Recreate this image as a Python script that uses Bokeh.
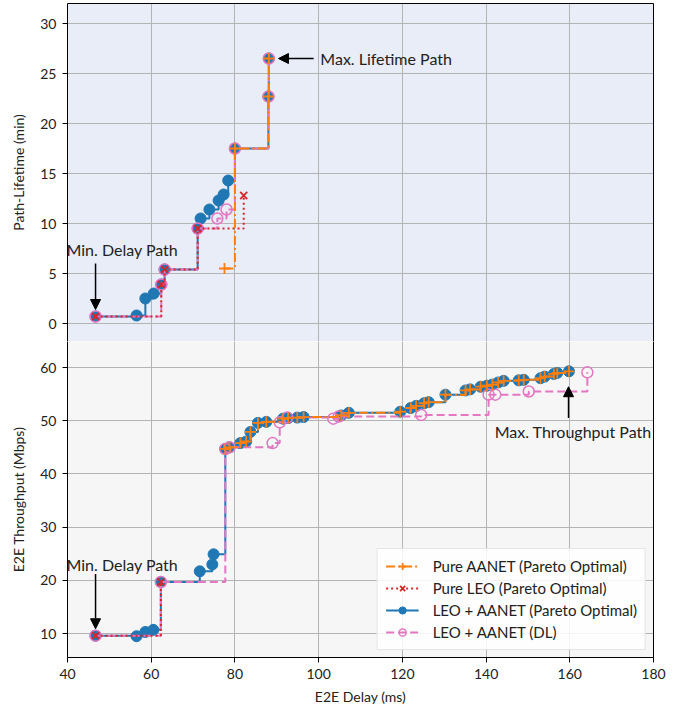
from bokeh.plotting import figure
from bokeh.layouts import column
from bokeh.models import (Range1d, FixedTicker, Legend, LegendItem, Label, Arrow,
                          NormalHead, ColumnDataSource, LinearAxis)
from bokeh.embed import file_html
from bokeh.resources import INLINE

FONT = "Lato"

# ---------------- data: top panel (Path-Lifetime vs E2E Delay) ----------------
top_aanet_delay = [77.5, 80.0, 88.0, 88.1]
top_aanet_life = [5.5, 17.5, 22.7, 26.5]

top_leo_delay = [46.7, 62.4, 63.2, 71.1, 82.1]
top_leo_life = [0.7, 3.9, 5.4, 9.5, 12.8]

top_hyb_delay = [46.7, 56.5, 58.6, 60.6, 62.4, 63.2, 71.1, 71.8, 73.9, 76.1, 77.3, 78.4, 80.0, 88.0, 88.1]
top_hyb_life = [0.7, 0.8, 2.5, 3.0, 3.9, 5.4, 9.5, 10.5, 11.4, 12.3, 12.9, 14.3, 17.5, 22.7, 26.5]

top_dl_delay = [46.7, 62.4, 63.2, 71.1, 75.8, 78.0, 80.0, 88.0, 88.1]
top_dl_life = [0.7, 3.9, 5.4, 9.5, 10.5, 11.4, 17.5, 22.7, 26.5]

# ---------------- data: bottom panel (E2E Throughput vs E2E Delay) ----------------
bot_aanet_delay = [77.7, 78.7, 81.3, 82.7, 83.7, 85.5, 87.5, 91.5, 92.7, 94.9, 96.4, 105.4, 107.2,
                   119.5, 122.0, 123.3, 125.2, 126.3, 130.3, 135.1, 136.2, 138.7, 140.2, 141.5,
                   142.9, 144.2, 147.8, 149.0, 153.0, 154.0, 156.2, 157.0, 159.8]
bot_aanet_thr = [44.7, 45.0, 45.8, 46.1, 47.9, 49.6, 49.8, 50.4, 50.5, 50.6, 50.7, 51.0, 51.5,
                 51.7, 52.4, 52.8, 53.3, 53.5, 54.9, 55.7, 55.9, 56.4, 56.6, 56.8,
                 57.2, 57.5, 57.6, 57.7, 58.0, 58.3, 58.8, 59.0, 59.3]

bot_leo_delay = [46.7, 62.3]
bot_leo_thr = [9.6, 19.7]

bot_hyb_delay = [46.7, 56.5, 58.6, 60.5, 62.3, 71.6, 74.6, 74.9,
                 77.7, 78.7, 81.3, 82.7, 83.7, 85.5, 87.5, 91.5, 92.7, 94.9, 96.4, 105.4, 107.2,
                 119.5, 122.0, 123.3, 125.2, 126.3, 130.3, 135.1, 136.2, 138.7, 140.2, 141.5,
                 142.9, 144.2, 147.8, 149.0, 153.0, 154.0, 156.2, 157.0, 159.8]
bot_hyb_thr = [9.6, 9.5, 10.3, 10.7, 19.7, 21.7, 23.0, 24.9,
               44.7, 45.0, 45.8, 46.1, 47.9, 49.6, 49.8, 50.4, 50.5, 50.6, 50.7, 51.0, 51.5,
               51.7, 52.4, 52.8, 53.3, 53.5, 54.9, 55.7, 55.9, 56.4, 56.6, 56.8,
               57.2, 57.5, 57.6, 57.7, 58.0, 58.3, 58.8, 59.0, 59.3]

bot_dl_delay = [46.7, 62.3, 77.7, 78.7, 89.0, 90.7, 92.5, 103.5, 104.8, 124.5, 140.6, 142.2, 150.2, 164.2]
bot_dl_thr = [9.6, 19.7, 44.7, 45.0, 45.8, 49.7, 50.6, 50.4, 50.8, 51.1, 54.9, 54.9, 55.5, 59.1]

x_ticks = [40, 60, 80, 100, 120, 140, 160, 180]
top_ticks = [0, 5, 10, 15, 20, 25, 30]
bot_ticks = [10, 20, 30, 40, 50, 60]

labels = ["Pure AANET (Pareto Optimal)", "Pure LEO (Pareto Optimal)",
          "LEO + AANET (Pareto Optimal)", "LEO + AANET (DL)"]

ORANGE = "#ff7f0e"
RED = "#d62728"
BLUE = "#1f77b4"
PINK = "#e377c2"
TXT = "#222222"

x_range = Range1d(40, 180)


def spine(p, side):
    ax = LinearAxis(ticker=FixedTicker(ticks=[]), major_label_text_font_size="0px",
                    axis_line_color="black", axis_line_width=1,
                    major_tick_line_color=None, minor_tick_line_color=None)
    p.add_layout(ax, side)


def style(p, yticks, ylabel, bg):
    p.background_fill_color = bg
    p.border_fill_color = "white"
    p.outline_line_color = None
    p.grid.grid_line_color = "#b4b4b4"
    p.grid.grid_line_width = 1
    p.yaxis.ticker = FixedTicker(ticks=yticks)
    p.yaxis.axis_label = ylabel
    for ax in p.axis:
        ax.axis_line_color = "black"
        ax.major_tick_line_color = "black"
        ax.major_tick_out = 5
        ax.major_tick_in = 0
        ax.minor_tick_line_color = None
        ax.major_label_text_font = FONT
        ax.major_label_text_font_size = "14px"
        ax.major_label_text_color = TXT
        ax.axis_label_text_font = FONT
        ax.axis_label_text_font_size = "14px"
        ax.axis_label_text_font_style = "normal"
        ax.axis_label_text_color = TXT
        ax.major_label_standoff = 6
        ax.axis_label_standoff = 10
    spine(p, "right")


def draw(p, series):
    items = {}
    # draw order: blue, pink, red, orange (orange on top)
    for key in ["hyb", "dl", "leo", "aanet"]:
        xs, ys = series[key]
        src = ColumnDataSource(dict(x=xs, y=ys))
        if key == "hyb":
            l = p.step("x", "y", source=src, mode="after", line_color=BLUE, line_width=2)
            m = p.scatter("x", "y", source=src, marker="circle", size=11,
                          fill_color=BLUE, line_color=BLUE)
        elif key == "dl":
            l = p.step("x", "y", source=src, mode="after", line_color=PINK, line_width=2,
                       line_dash="8 4")
            m = p.scatter("x", "y", source=src, marker="circle", size=11,
                          fill_color=None, line_color=PINK, line_width=1.5)
        elif key == "leo":
            l = p.step("x", "y", source=src, mode="after", line_color=RED, line_width=2,
                       line_dash="2 3")
            m = p.scatter("x", "y", source=src, marker="x", size=10,
                          line_color=RED, line_width=1.8)
        else:
            l = p.step("x", "y", source=src, mode="after", line_color=ORANGE, line_width=2,
                       line_dash="9 3 2 3")
            m = p.scatter("x", "y", source=src, marker="cross", size=11,
                          line_color=ORANGE, line_width=1.8)
        items[key] = [l, m]
    return items


def arrow(p, xs, ys, xe, ye):
    p.add_layout(Arrow(end=NormalHead(size=10, fill_color="black", line_color="black"),
                       x_start=xs, y_start=ys, x_end=xe, y_end=ye,
                       line_color="black", line_width=1.5))


def note(p, x, y, text, align):
    p.add_layout(Label(x=x, y=y, text=text, text_align=align, text_baseline="middle",
                       text_font=FONT, text_font_size="16px", text_color=TXT))


# ---------------- top figure ----------------
p1 = figure(frame_width=586, frame_height=338, x_range=x_range, y_range=Range1d(-1.8, 32.0),
            output_backend="svg", toolbar_location=None, x_axis_location=None,
            min_border_left=67, min_border_right=23, min_border_top=3, min_border_bottom=0)
style(p1, top_ticks, "Path-Lifetime (min)", "#e9edf7")
spine(p1, "above")
p1.xgrid.ticker = FixedTicker(ticks=x_ticks)
draw(p1, {"aanet": (top_aanet_delay, top_aanet_life), "leo": (top_leo_delay, top_leo_life),
          "hyb": (top_hyb_delay, top_hyb_life), "dl": (top_dl_delay, top_dl_life)})

note(p1, 53.1, 7.4, "Min. Delay Path", "center")
arrow(p1, 46.7, 6.0, 46.7, 1.4)
note(p1, 100.4, 26.5, "Max. Lifetime Path", "left")
arrow(p1, 98.8, 26.5, 90.4, 26.5)

# ---------------- bottom figure ----------------
p2 = figure(frame_width=586, frame_height=316, x_range=x_range, y_range=Range1d(5.5, 64.9),
            output_backend="svg", toolbar_location=None,
            min_border_left=67, min_border_right=23, min_border_top=0, min_border_bottom=54)
p2.xaxis.ticker = FixedTicker(ticks=x_ticks)
p2.xaxis.axis_label = "E2E Delay (ms)"
style(p2, bot_ticks, "E2E Throughput (Mbps)", "#f6f6f6")
p2.xaxis.axis_label_standoff = 6
items = draw(p2, {"aanet": (bot_aanet_delay, bot_aanet_thr), "leo": (bot_leo_delay, bot_leo_thr),
                  "hyb": (bot_hyb_delay, bot_hyb_thr), "dl": (bot_dl_delay, bot_dl_thr)})

note(p2, 53.1, 23.0, "Min. Delay Path", "center")
arrow(p2, 46.7, 21.2, 46.7, 10.9)
note(p2, 160.8, 48.0, "Max. Throughput Path", "center")
arrow(p2, 159.7, 50.5, 159.7, 56.4)

legend = Legend(items=[LegendItem(label=labels[0], renderers=items["aanet"]),
                       LegendItem(label=labels[1], renderers=items["leo"]),
                       LegendItem(label=labels[2], renderers=items["hyb"]),
                       LegendItem(label=labels[3], renderers=items["dl"])],
                location="bottom_right")
legend.margin = 7
legend.padding = 8
legend.spacing = 4
legend.glyph_width = 33
legend.glyph_height = 18
legend.label_height = 18
legend.label_standoff = 14
legend.label_text_font = FONT
legend.label_text_font_size = "15px"
legend.label_text_color = TXT
legend.border_line_color = "#cccccc"
legend.border_line_width = 1
legend.background_fill_color = "white"
legend.background_fill_alpha = 0.85
p2.add_layout(legend, "center")

layout = column(p1, p2, spacing=0)
open("out.html", "w").write(file_html(layout, INLINE))
